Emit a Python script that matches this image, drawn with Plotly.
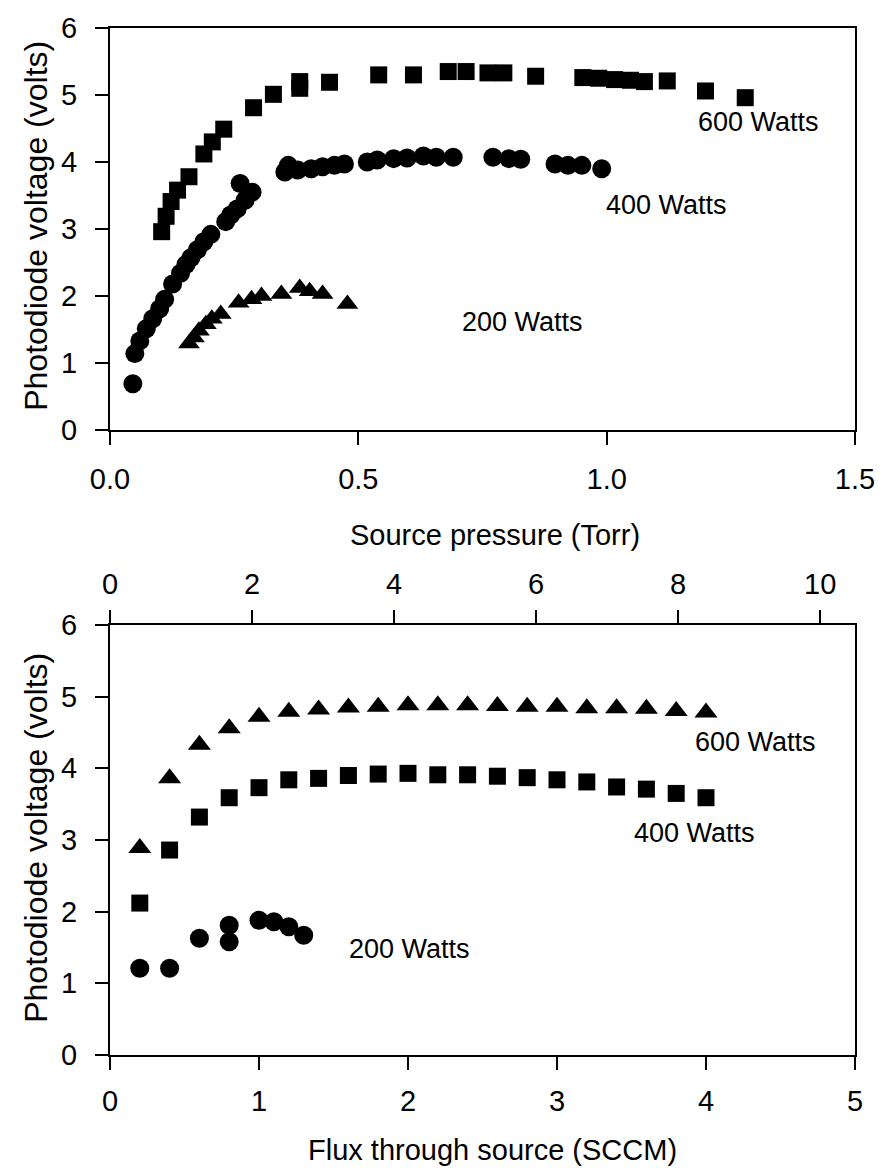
import plotly.graph_objects as go

# ---- Upper panel: photodiode voltage against source pressure (Torr) ----
w600_torr = [0.104, 0.113, 0.123, 0.136, 0.159, 0.189, 0.206, 0.229, 0.289, 0.329,
             0.382, 0.382, 0.442, 0.541, 0.611, 0.681, 0.717, 0.761, 0.793, 0.857,
             0.952, 0.984, 1.016, 1.048, 1.076, 1.122, 1.199, 1.279]
w600_volts = [2.96, 3.19, 3.41, 3.58, 3.78, 4.12, 4.30, 4.49, 4.81, 5.01,
              5.10, 5.20, 5.19, 5.30, 5.30, 5.35, 5.35, 5.33, 5.33, 5.28,
              5.26, 5.25, 5.23, 5.22, 5.20, 5.21, 5.06, 4.96]

w400_torr = [0.046, 0.050, 0.060, 0.073, 0.086, 0.100, 0.110, 0.126, 0.142, 0.153,
             0.163, 0.176, 0.189, 0.203, 0.233, 0.243, 0.256, 0.272, 0.286, 0.262,
             0.352, 0.359, 0.378, 0.405, 0.428, 0.452, 0.472, 0.518, 0.538, 0.571,
             0.598, 0.631, 0.657, 0.691, 0.771, 0.803, 0.827, 0.896, 0.922, 0.950,
             0.990]
w400_volts = [0.69, 1.14, 1.33, 1.51, 1.66, 1.81, 1.95, 2.18, 2.34, 2.47,
              2.57, 2.69, 2.81, 2.92, 3.11, 3.21, 3.30, 3.43, 3.55, 3.68,
              3.85, 3.95, 3.88, 3.90, 3.93, 3.95, 3.97, 4.00, 4.03, 4.05,
              4.06, 4.09, 4.07, 4.07, 4.07, 4.05, 4.04, 3.97, 3.95, 3.95,
              3.90]

w200_torr = [0.159, 0.169, 0.179, 0.193, 0.205, 0.223, 0.259, 0.285, 0.305, 0.345,
             0.382, 0.402, 0.428, 0.478]
w200_volts = [1.29, 1.38, 1.48, 1.58, 1.66, 1.73, 1.90, 1.95, 2.00, 2.03,
              2.12, 2.07, 2.03, 1.88]

# ---- Lower panel: photodiode voltage against flux (SCCM) ----
f600_sccm = [0.2, 0.4, 0.6, 0.8, 1.0, 1.2, 1.4, 1.6, 1.8, 2.0,
             2.2, 2.4, 2.6, 2.8, 3.0, 3.2, 3.4, 3.6, 3.8, 4.0]
f600_volts = [2.89, 3.86, 4.33, 4.56, 4.72, 4.79, 4.82, 4.85, 4.86, 4.88,
              4.88, 4.88, 4.87, 4.86, 4.86, 4.84, 4.84, 4.83, 4.80, 4.78]

f400_sccm = [0.2, 0.4, 0.6, 0.8, 1.0, 1.2, 1.4, 1.6, 1.8, 2.0,
             2.2, 2.4, 2.6, 2.8, 3.0, 3.2, 3.4, 3.6, 3.8, 4.0]
f400_volts = [2.12, 2.86, 3.32, 3.59, 3.73, 3.84, 3.86, 3.90, 3.92, 3.93,
              3.91, 3.91, 3.89, 3.87, 3.84, 3.81, 3.74, 3.71, 3.65, 3.59]

f200_sccm = [0.2, 0.4, 0.6, 0.8, 0.8, 1.0, 1.1, 1.2, 1.3]
f200_volts = [1.21, 1.21, 1.63, 1.81, 1.58, 1.88, 1.86, 1.79, 1.67]

# Secondary (top) scale of the lower panel
upper_scale_range = [0, 10.49]

# Labels placed beside each series
top_labels = [("600 Watts", 1.305, 4.60), ("400 Watts", 1.12, 3.36), ("200 Watts", 0.83, 1.61)]
bottom_labels = [("600 Watts", 4.33, 4.37), ("400 Watts", 3.92, 3.10), ("200 Watts", 2.01, 1.48)]

INK = "black"
FONT = "Liberation Sans, Arial, sans-serif"
TICK_SIZE = 29


def marks(x, y, symbol, size, xa, ya):
    return go.Scatter(x=x, y=y, mode="markers", xaxis=xa, yaxis=ya,
                      marker=dict(symbol=symbol, size=size, color=INK,
                                  line=dict(width=0)),
                      hoverinfo="skip")


fig = go.Figure()
fig.add_trace(marks(w600_torr, w600_volts, "square", 17, "x", "y"))
fig.add_trace(marks(w400_torr, w400_volts, "circle", 19, "x", "y"))
fig.add_trace(marks(w200_torr, w200_volts, "triangle-up", 19, "x", "y"))
fig.add_trace(marks(f600_sccm, f600_volts, "triangle-up", 20, "x2", "y2"))
fig.add_trace(marks(f400_sccm, f400_volts, "square", 17, "x2", "y2"))
fig.add_trace(marks(f200_sccm, f200_volts, "circle", 19, "x2", "y2"))
# carrier for the secondary top axis (nothing visible is drawn)
fig.add_trace(go.Scatter(x=upper_scale_range, y=[0, 0], mode="markers",
                         xaxis="x3", yaxis="y2", marker=dict(opacity=0),
                         hoverinfo="skip"))

common = dict(showgrid=False, zeroline=False, showline=True, linewidth=2,
              linecolor=INK, ticks="outside", ticklen=13, tickwidth=2,
              tickcolor=INK, tickfont=dict(family=FONT, size=TICK_SIZE, color=INK))

W, H = 887, 1176
ML, MR, MT, MB = 110, 24, 28, 121
plot_h = H - MT - MB


def py(pix):
    return (H - MB - pix) / plot_h


def px(pix):
    return (pix - ML) / (W - ML - MR)


fig.update_layout(
    width=W, height=H,
    margin=dict(l=ML, r=MR, t=MT, b=MB),
    plot_bgcolor="white", paper_bgcolor="white",
    showlegend=False,
    font=dict(family=FONT, size=27, color=INK),
    xaxis=dict(common, domain=[0, 1], anchor="y", range=[0, 1.5],
               tickvals=[0, 0.5, 1.0, 1.5], tickformat=".1f",
               mirror=True, ticklabelstandoff=9),
    yaxis=dict(common, domain=[py(430), 1], anchor="x", range=[0, 6],
               dtick=1, mirror=True, ticklabelstandoff=12),
    xaxis2=dict(common, domain=[0, 1], anchor="y2", range=[0, 5], dtick=1,
                ticklabelstandoff=6),
    yaxis2=dict(common, domain=[0, py(625)], anchor="x2", range=[0, 6],
                dtick=1, mirror=True, ticklabelstandoff=12),
    xaxis3=dict(common, overlaying="x2", anchor="y2", side="top",
                range=upper_scale_range, tickvals=[0, 2, 4, 6, 8, 10],
                ticklabelstandoff=4),
)

for text, x, y in top_labels:
    fig.add_annotation(text=text, x=x, y=y, xref="x", yref="y", showarrow=False,
                       xanchor="center", yanchor="middle",
                       font=dict(family=FONT, size=27, color=INK))
for text, x, y in bottom_labels:
    fig.add_annotation(text=text, x=x, y=y, xref="x2", yref="y2", showarrow=False,
                       xanchor="center", yanchor="middle",
                       font=dict(family=FONT, size=27, color=INK))

# Axis titles
title_font = dict(family=FONT, size=29, color=INK)
fig.add_annotation(text="Source pressure (Torr)", x=px(499), y=py(535),
                   xref="paper", yref="paper", showarrow=False,
                   xanchor="center", yanchor="middle", font=title_font)
fig.add_annotation(text="Flux through source (SCCM)", x=px(497), y=py(1150),
                   xref="paper", yref="paper", showarrow=False,
                   xanchor="center", yanchor="middle", font=title_font)
ytitle_font = dict(family=FONT, size=32, color=INK)
fig.add_annotation(text="Photodiode voltage (volts)", x=px(35), y=py(226),
                   xref="paper", yref="paper", showarrow=False, textangle=-90,
                   xanchor="center", yanchor="middle", font=ytitle_font)
fig.add_annotation(text="Photodiode voltage (volts)", x=px(35), y=py(838),
                   xref="paper", yref="paper", showarrow=False, textangle=-90,
                   xanchor="center", yanchor="middle", font=ytitle_font)

fig.write_html("out.html")
